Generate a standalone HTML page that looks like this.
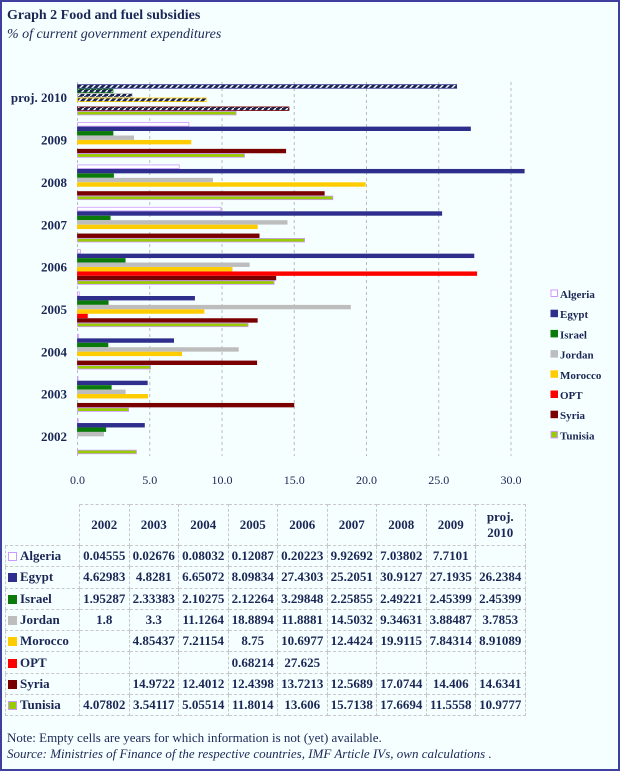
<!DOCTYPE html>
<html><head><meta charset="utf-8"><style>
body{margin:0;width:620px;height:771px;overflow:hidden;background:#f6ffff;font-family:"Liberation Serif",serif;color:#1a2755}
#frame{position:absolute;left:0;top:0;width:616px;height:767px;border:2px solid #3f3f9f;background:#f6ffff}
.t{position:absolute;left:7px;white-space:nowrap}
table{position:absolute;left:5px;top:504px;border-collapse:collapse;font-weight:bold;font-size:13px}
td{border:1px dashed #c8c8c8;text-align:center;padding:0;height:20.3px;white-space:nowrap}
td.l{text-align:left;width:71px;padding-left:2px}
td.v{width:48.5px}
tr.h td{height:40px}
.sw{display:inline-block;width:9px;height:9px;margin-right:3px;vertical-align:-1px;box-sizing:border-box}
</style></head><body>
<div id="frame"></div>
<div class="t" style="top:8px;font-weight:bold;font-size:14px">Graph 2 Food and fuel subsidies</div>
<div class="t" style="top:27px;font-style:italic;font-size:14px">% of current government expenditures</div>
<svg id="chart" width="620" height="500" style="position:absolute;left:0;top:0">
<defs>
<pattern id="hatch" width="6" height="6" patternUnits="userSpaceOnUse"><rect width="6" height="6" fill="currentColor"/><path d="M0 6L6 0" stroke="#fff" stroke-width="1.5"/></pattern>
</defs>
</svg>
<table id="tbl"></table>
<div class="t" style="top:730px;font-size:13px">Note: Empty cells are years for which information is not (yet) available.</div>
<div class="t" style="top:746px;font-size:13px;font-style:italic">Source: Ministries of Finance of the respective countries, IMF Article IVs, own calculations .</div>
<script>
const categories=["2002","2003","2004","2005","2006","2007","2008","2009","proj. 2010"];
const countries=["Algeria","Egypt","Israel","Jordan","Morocco","OPT","Syria","Tunisia"];
const algeria=[0.04555,0.02676,0.08032,0.12087,0.20223,9.92692,7.03802,7.7101,null];
const egypt=[4.62983,4.8281,6.65072,8.09834,27.4303,25.2051,30.9127,27.1935,26.2384];
const israel=[1.95287,2.33383,2.10275,2.12264,3.29848,2.25855,2.49221,2.45399,2.45399];
const jordan=[1.8,3.3,11.1264,18.8894,11.8881,14.5032,9.34631,3.88487,3.7853];
const morocco=[null,4.85437,7.21154,8.75,10.6977,12.4424,19.9115,7.84314,8.91089];
const opt=[null,null,null,0.68214,27.625,null,null,null,null];
const syria=[null,14.9722,12.4012,12.4398,13.7213,12.5689,17.0744,14.406,14.6341];
const tunisia=[4.07802,3.54117,5.05514,11.8014,13.606,15.7138,17.6694,11.5558,10.9777];
const xTicks=["0.0","5.0","10.0","15.0","20.0","25.0","30.0"];
const series=[algeria,egypt,israel,jordan,morocco,opt,syria,tunisia];
const fills=["#ffffff","#2e2e8c","#0a7a0a","#bdbdbd","#ffcc00","#ff0000","#7a0000","#99cc00"];
const strokes=["#cc99ff","#2e2e8c","#0a7a0a","#bdbdbd","#ffcc00","#ff0000","#7a0000","#cc99ff"];
const NS="http://www.w3.org/2000/svg";
const svg=document.getElementById('chart');
const x0=77.5,pxu=14.45;
const xs=v=>x0+v*pxu;
const yc=i=>436-i*42.35;
const barY=(i,s)=>yc(i)-17+s*4.45;
function mk(t,a){const e=document.createElementNS(NS,t);for(const k in a)e.setAttribute(k,a[k]);svg.appendChild(e);return e;}
xTicks.forEach((t,k)=>{
  const v=parseFloat(t);
  const g=mk('line',{x1:xs(v),x2:xs(v),y1:82,y2:456,stroke:'#bbbbbb','stroke-dasharray':'3,3'});
  
  
  const tx=mk('text',{x:xs(v),y:484,'text-anchor':'middle','font-size':'12','font-family':'Liberation Serif, serif',fill:'#1a2755'});
  tx.textContent=t;
  
  
});
categories.forEach((c,i)=>{
  const tx=mk('text',{x:67,y:yc(i)+5,'text-anchor':'end','font-size':'13','font-weight':'bold','font-family':'Liberation Serif, serif',fill:'#1a2755'});
  tx.textContent=c;
  
  
});
series.forEach((arr,s)=>{
  arr.forEach((v,i)=>{
    if(v===null)return;
    const proj=i===categories.length-1 && countries[s]!=="Tunisia";
    const r=mk('rect',{x:xs(0),y:barY(i,s),width:Math.max(0.5,xs(v)-xs(0)),height:3.6,fill:proj?'url(#hatch)':fills[s],stroke:strokes[s],'stroke-width':'0.8',style:'color:'+fills[s]});
    
    
  });
});
countries.forEach((c,s)=>{
  const y=294+s*20.2;
  const r=mk('rect',{x:551,y:y-4,width:6.5,height:6.5,fill:fills[s],stroke:strokes[s],'stroke-width':'1'});
  
  
  const tx=mk('text',{x:560,y:y+4,'font-size':'11','font-weight':'bold','font-family':'Liberation Serif, serif',fill:'#1a2755'});
  tx.textContent=c;
  
  
});
const tbl=document.getElementById('tbl');
let h='<tr class="h"><td class="l" style="border-top:none;border-left:none"></td>';
categories.forEach(c=>{h+='<td class="v">'+(c.startsWith('proj')?'proj.<br>2010':c)+'</td>';});
h+='</tr>';
countries.forEach((c,s)=>{
  h+='<tr><td class="l"><span class="sw" style="background:'+fills[s]+';border:1.5px solid '+strokes[s]+'"></span>'+c+'</td>';
  series[s].forEach(v=>{h+='<td class="v">'+(v===null?'':v)+'</td>';});
  h+='</tr>';
});
tbl.innerHTML=h;
</script>
</body></html>
